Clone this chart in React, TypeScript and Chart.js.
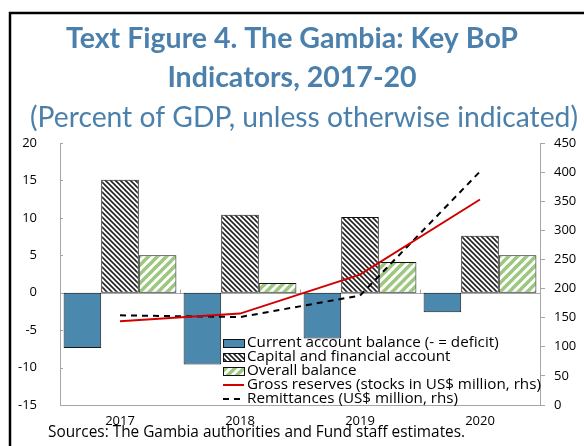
import { useEffect, useRef } from 'react';
import { Chart, registerables } from 'chart.js';

Chart.register(...registerables);

const categories = ['2017', '2018', '2019', '2020'];
const currentAccount = [-7.4, -9.6, -6.1, -2.6];
const capitalFinancial = [15.1, 10.4, 10.1, 7.6];
const overallBalance = [5.0, 1.3, 4.1, 5.0];
const grossReserves = [144, 157, 224, 353];
const remittances = [154, 151, 188, 401];

const leftMin = -15;
const leftMax = 20;
const leftStep = 5;
const rightMin = 0;
const rightMax = 450;
const rightStep = 50;

const titleLines = ['Text Figure 4. The Gambia: Key BoP', 'Indicators, 2017-20'];
const subtitleText = '(Percent of GDP, unless otherwise indicated)';
const sourcesText = 'Sources: The Gambia authorities and Fund staff estimates.';
const seriesLabels = [
  'Current account balance (- = deficit)',
  'Capital and financial account',
  'Overall balance',
  'Gross reserves (stocks in US$ million, rhs)',
  'Remittances (US$ million, rhs)',
];

const BLUE = '#4a88ae';
const GREEN = '#9cc77f';
const RED = '#d00000';
const TITLE_COLOR = '#4a80ab';
const AXIS_GRAY = '#a6a6a6';
const TEXT_FONT = '"Open Sans"';
const TICK_FONT = 'Open Sans';

function makeHatch(bg: string, fg: string, size: number, lw: number, forward: boolean): CanvasPattern | string {
  const c = document.createElement('canvas');
  c.width = size;
  c.height = size;
  const g = c.getContext('2d');
  if (!g) return bg;
  g.fillStyle = bg;
  g.fillRect(0, 0, size, size);
  g.strokeStyle = fg;
  g.lineWidth = lw;
  g.lineCap = 'square';
  for (let k = -1; k <= 1; k++) {
    g.beginPath();
    if (forward) {
      g.moveTo(k * size, size);
      g.lineTo(k * size + size, 0);
    } else {
      g.moveTo(k * size, 0);
      g.lineTo(k * size + size, size);
    }
    g.stroke();
  }
  const p = g.createPattern(c, 'repeat');
  return p || bg;
}

function fitFont(ctx: CanvasRenderingContext2D, text: string, weight: string, family: string, target: number): string {
  const base = 20;
  ctx.font = `${weight} ${base}px ${family}`;
  const w = ctx.measureText(text).width;
  const size = (base * target) / w;
  return `${weight} ${size.toFixed(2)}px ${family}`;
}

export default function App() {
  const ref = useRef<HTMLCanvasElement | null>(null);

  useEffect(() => {
    const canvas = ref.current;
    if (!canvas) return;
    const capHatch = makeHatch('#ffffff', '#222222', 5, 1.6, false);
    const greenHatch = makeHatch('#ffffff', GREEN, 9, 3.4, true);

    const decor = {
      id: 'decor',
      beforeDatasetsDraw(chart: any) {
        const { ctx, chartArea } = chart;
        const y = chart.scales.y;
        const x = chart.scales.x;
        ctx.save();
        ctx.strokeStyle = AXIS_GRAY;
        ctx.lineWidth = 1;
        const y0 = Math.round(y.getPixelForValue(0)) + 0.5;
        ctx.beginPath();
        ctx.moveTo(chartArea.left, y0);
        ctx.lineTo(chartArea.right, y0);
        ctx.stroke();
        for (let i = 1; i < categories.length; i++) {
          const xb = Math.round((x.getPixelForValue(i - 1) + x.getPixelForValue(i)) / 2) + 0.5;
          ctx.beginPath();
          ctx.moveTo(xb, y0);
          ctx.lineTo(xb, y0 - 4);
          ctx.stroke();
        }
        for (let v = leftMin; v <= leftMax; v += leftStep) {
          const py = Math.round(y.getPixelForValue(v)) + 0.5;
          ctx.beginPath();
          ctx.moveTo(chartArea.left, py);
          ctx.lineTo(chartArea.left + 3, py);
          ctx.stroke();
        }
        ctx.restore();
      },
      afterDraw(chart: any) {
        const { ctx } = chart;
        ctx.save();
        ctx.strokeStyle = '#000000';
        ctx.lineWidth = 2.5;
        ctx.beginPath();
        ctx.moveTo(10, 446);
        ctx.lineTo(10, 13);
        ctx.lineTo(584, 13);
        ctx.stroke();
        // titles
        ctx.fillStyle = TITLE_COLOR;
        ctx.textAlign = 'center';
        ctx.textBaseline = 'alphabetic';
        const titleFont = fitFont(ctx, titleLines[0], 'bold', 'Lato', 452);
        ctx.font = titleFont;
        ctx.fillText(titleLines[0], 292, 48);
        ctx.fillText(titleLines[1], 292, 87);
        ctx.font = fitFont(ctx, subtitleText, 'normal', 'Lato', 548);
        ctx.fillText(subtitleText, 304, 127);
        // sources
        ctx.fillStyle = '#000000';
        ctx.textAlign = 'left';
        ctx.textBaseline = 'middle';
        ctx.font = fitFont(ctx, sourcesText, 'normal', TEXT_FONT, 417);
        ctx.fillText(sourcesText, 48, 433);
        // legend
        const lx = 223;
        const bw = 21;
        const rows = [343, 357, 371, 385, 399];
        const fills = [BLUE, capHatch, greenHatch];
        for (let i = 0; i < 3; i++) {
          ctx.fillStyle = fills[i];
          ctx.fillRect(lx, rows[i] - 4, bw, 8);
          ctx.strokeStyle = '#111111';
          ctx.lineWidth = 1;
          ctx.strokeRect(lx + 0.5, rows[i] - 3.5, bw, 8);
        }
        ctx.strokeStyle = RED;
        ctx.lineWidth = 2;
        ctx.beginPath();
        ctx.moveTo(lx, rows[3]);
        ctx.lineTo(lx + bw, rows[3]);
        ctx.stroke();
        ctx.strokeStyle = '#000000';
        ctx.setLineDash([6, 5]);
        ctx.beginPath();
        ctx.moveTo(lx, rows[4]);
        ctx.lineTo(lx + bw, rows[4]);
        ctx.stroke();
        ctx.setLineDash([]);
        ctx.fillStyle = '#000000';
        ctx.font = fitFont(ctx, seriesLabels[3], 'normal', TEXT_FONT, 294);
        ctx.textBaseline = 'middle';
        for (let i = 0; i < 5; i++) {
          ctx.fillText(seriesLabels[i], lx + bw + 3, rows[i]);
        }
        ctx.restore();
      },
    };

    const chart = new Chart(canvas, {
      type: 'bar',
      data: {
        labels: categories,
        datasets: [
          {
            type: 'line',
            label: seriesLabels[3],
            data: grossReserves,
            yAxisID: 'y1',
            borderColor: RED,
            borderWidth: 2,
            pointRadius: 0,
            tension: 0,
            order: 0,
          },
          {
            type: 'line',
            label: seriesLabels[4],
            data: remittances,
            yAxisID: 'y1',
            borderColor: '#000000',
            borderWidth: 2,
            borderDash: [6, 5],
            pointRadius: 0,
            tension: 0,
            order: 0,
          },
          {
            type: 'bar',
            label: seriesLabels[0],
            data: currentAccount,
            yAxisID: 'y',
            backgroundColor: BLUE,
            borderColor: '#1a1a1a',
            borderWidth: 1,
            borderSkipped: false,
            categoryPercentage: 0.94,
            barPercentage: 1.0,
            order: 1,
          },
          {
            type: 'bar',
            label: seriesLabels[1],
            data: capitalFinancial,
            yAxisID: 'y',
            backgroundColor: capHatch as any,
            borderColor: '#111111',
            borderWidth: 1,
            borderSkipped: false,
            categoryPercentage: 0.94,
            barPercentage: 1.0,
            order: 1,
          },
          {
            type: 'bar',
            label: seriesLabels[2],
            data: overallBalance,
            yAxisID: 'y',
            backgroundColor: greenHatch as any,
            borderColor: '#111111',
            borderWidth: 1,
            borderSkipped: false,
            categoryPercentage: 0.94,
            barPercentage: 1.0,
            order: 1,
          },
        ],
      } as any,
      options: {
        responsive: false,
        animation: false,
        layout: { padding: { left: 10, right: 0, top: 143, bottom: 0 } },
        plugins: {
          legend: { display: false },
          title: { display: false },
          tooltip: { enabled: false },
        },
        scales: {
          x: {
            type: 'category',
            offset: true,
            grid: { display: false },
            border: { display: true, color: AXIS_GRAY, width: 1 },
            ticks: { color: '#000000', font: { family: TICK_FONT, size: 13 }, padding: 0, maxRotation: 0 },
            afterFit(scale: any) {
              scale.height = 41;
            },
          },
          y: {
            type: 'linear',
            position: 'left',
            min: leftMin,
            max: leftMax,
            ticks: { stepSize: leftStep, color: '#000000', font: { family: TICK_FONT, size: 13 }, padding: 15 },
            grid: { display: false },
            border: { display: true, color: AXIS_GRAY, width: 1 },
            afterFit(scale: any) {
              scale.width = 50;
            },
          },
          y1: {
            type: 'linear',
            position: 'right',
            min: rightMin,
            max: rightMax,
            ticks: { stepSize: rightStep, color: '#000000', font: { family: TICK_FONT, size: 13 }, padding: 9 },
            grid: { display: true, drawOnChartArea: false, drawTicks: true, tickLength: 5, color: AXIS_GRAY },
            border: { display: true, color: AXIS_GRAY, width: 1 },
            afterFit(scale: any) {
              scale.width = 44;
            },
          },
        },
      } as any,
      plugins: [decor],
    });
    return () => chart.destroy();
  }, []);

  return (
    <div style={{ position: 'absolute', left: 0, top: 0, width: 584, height: 446, background: '#ffffff' }}>
      <canvas ref={ref} width={584} height={446} style={{ display: 'block', width: 584, height: 446 }} />
    </div>
  );
}
